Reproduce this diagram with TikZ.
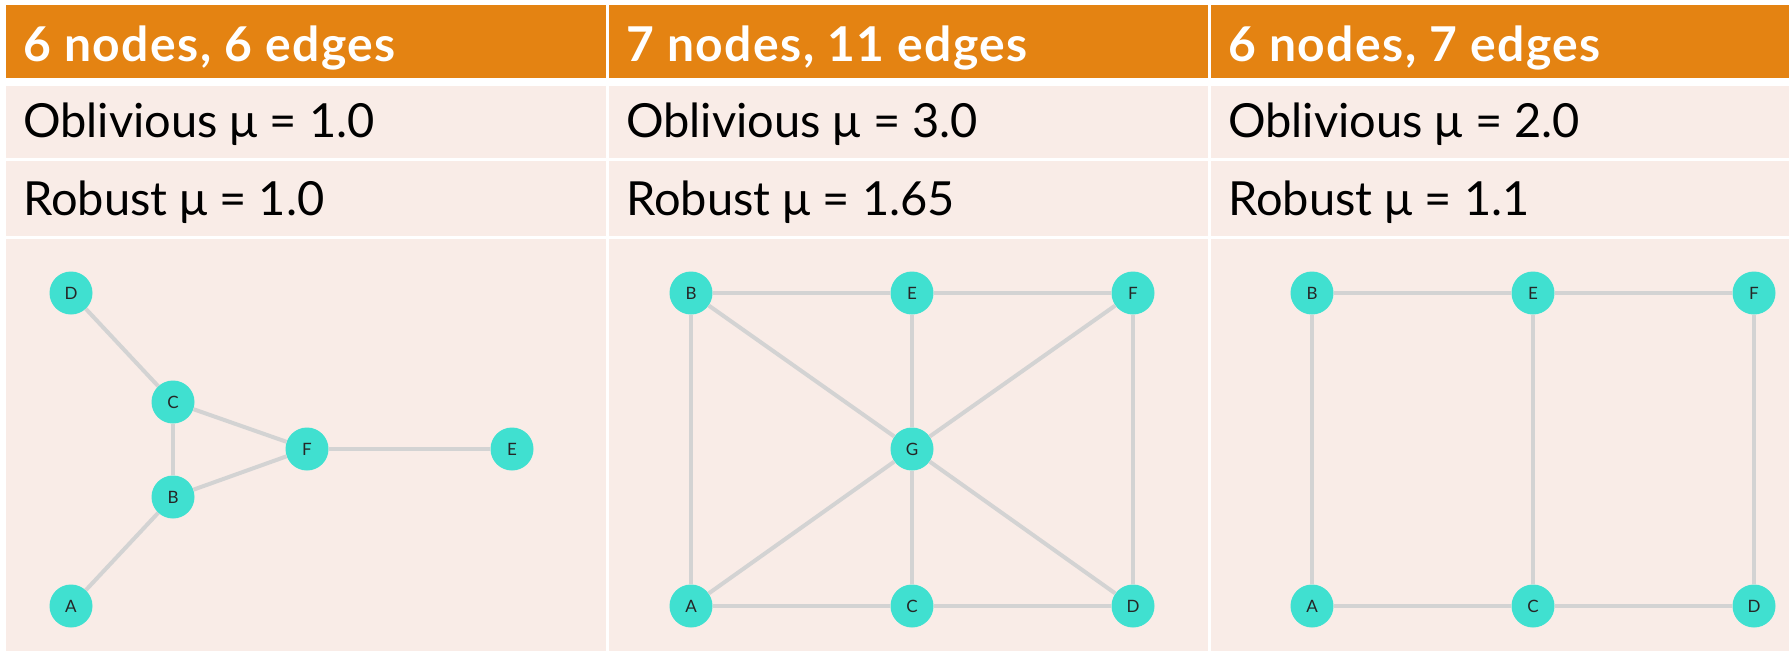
\documentclass[tikz,border=0pt]{standalone}
\usepackage{fontspec}
\setmainfont{Lato}
\usetikzlibrary{positioning}

\definecolor{headorange}{HTML}{E48312}
\definecolor{cellpeach}{HTML}{F9ECE7}
\definecolor{vertexteal}{HTML}{40E0D0}
\definecolor{linkgray}{HTML}{D3D3D3}

\begin{document}
\begin{tikzpicture}[
  x=1pt, y=-1pt,
  headcell/.style={
    anchor=north west,
    fill=headorange,
    inner sep=0pt
  },
  bodycell/.style={
    anchor=north west,
    fill=cellpeach,
    inner sep=0pt
  },
  headtext/.style={
    anchor=base west,
    inner sep=0pt,
    text=white,
    font=\fontsize{48}{56}\selectfont\bfseries\addfontfeature{LetterSpace=3}
  },
  bodytext/.style={
    anchor=base west,
    inner sep=0pt,
    text=black,
    font=\fontsize{47}{56}\selectfont
  },
  vertex/.style={
    circle,
    fill=vertexteal,
    minimum size=43pt,
    inner sep=0pt,
    text=black!85,
    font=\fontsize{17}{19}\selectfont
  },
  link/.style={line width=4pt, draw=linkgray}
]
\useasboundingbox[fill=white] (0,0) rectangle (1789,651);

% header row
\node[headcell, minimum width=600pt, minimum height=73pt] (h1) at (6,5) {};
\node[headcell, minimum width=599pt, minimum height=73pt] (h2) at (609,5) {};
\node[headcell, minimum width=578pt, minimum height=73pt] (h3) at (1211,5) {};
\node[headtext] (h1t) at (23,61) {6 nodes, 6 edges};
\node[headtext] (h2t) at (626,61) {7 nodes, 11 edges};
\node[headtext] (h3t) at (1228,61) {6 nodes, 7 edges};

% oblivious row
\node[bodycell, minimum width=600pt, minimum height=72pt] (o1) at (6,86) {};
\node[bodycell, minimum width=599pt, minimum height=72pt] (o2) at (609,86) {};
\node[bodycell, minimum width=578pt, minimum height=72pt] (o3) at (1211,86) {};
\node[bodytext] (o1t) at (23,137) {Oblivious μ = 1.0};
\node[bodytext] (o2t) at (626,137) {Oblivious μ = 3.0};
\node[bodytext] (o3t) at (1228,137) {Oblivious μ = 2.0};

% robust row
\node[bodycell, minimum width=600pt, minimum height=75pt] (r1) at (6,161) {};
\node[bodycell, minimum width=599pt, minimum height=75pt] (r2) at (609,161) {};
\node[bodycell, minimum width=578pt, minimum height=75pt] (r3) at (1211,161) {};
\node[bodytext] (r1t) at (23,215) {Robust μ = 1.0};
\node[bodytext] (r2t) at (626,215) {Robust μ = 1.65};
\node[bodytext] (r3t) at (1228,215) {Robust μ = 1.1};

% graph row
\node[bodycell, minimum width=600pt, minimum height=412pt] (g1) at (6,239) {};
\node[bodycell, minimum width=599pt, minimum height=412pt] (g2) at (609,239) {};
\node[bodycell, minimum width=578pt, minimum height=412pt] (g3) at (1211,239) {};

% first graph
\node[vertex] (lD) at (71,293) {D};
\node[vertex] (lC) at (173,402) {C};
\node[vertex] (lF) at (307,449) {F};
\node[vertex] (lE) at (512,449) {E};
\node[vertex] (lB) at (173,497) {B};
\node[vertex] (lA) at (71,606) {A};

\draw[link] (lD) -- (lC);
\draw[link] (lC) -- (lB);
\draw[link] (lC) -- (lF);
\draw[link] (lB) -- (lF);
\draw[link] (lF) -- (lE);
\draw[link] (lB) -- (lA);

% second graph
\node[vertex] (mB) at (691,293) {B};
\node[vertex] (mE) at (912,293) {E};
\node[vertex] (mF) at (1133,293) {F};
\node[vertex] (mG) at (912,449) {G};
\node[vertex] (mA) at (691,606) {A};
\node[vertex] (mC) at (912,606) {C};
\node[vertex] (mD) at (1133,606) {D};

\draw[link] (mB) -- (mE);
\draw[link] (mE) -- (mF);
\draw[link] (mB) -- (mA);
\draw[link] (mF) -- (mD);
\draw[link] (mA) -- (mC);
\draw[link] (mC) -- (mD);
\draw[link] (mB) -- (mG);
\draw[link] (mE) -- (mG);
\draw[link] (mF) -- (mG);
\draw[link] (mA) -- (mG);
\draw[link] (mC) -- (mG);
\draw[link] (mD) -- (mG);

% third graph
\node[vertex] (rB) at (1312,293) {B};
\node[vertex] (rE) at (1533,293) {E};
\node[vertex] (rF) at (1754,293) {F};
\node[vertex] (rA) at (1312,606) {A};
\node[vertex] (rC) at (1533,606) {C};
\node[vertex] (rD) at (1754,606) {D};

\draw[link] (rB) -- (rE);
\draw[link] (rE) -- (rF);
\draw[link] (rB) -- (rA);
\draw[link] (rE) -- (rC);
\draw[link] (rF) -- (rD);
\draw[link] (rA) -- (rC);
\draw[link] (rC) -- (rD);

\end{tikzpicture}
\end{document}
